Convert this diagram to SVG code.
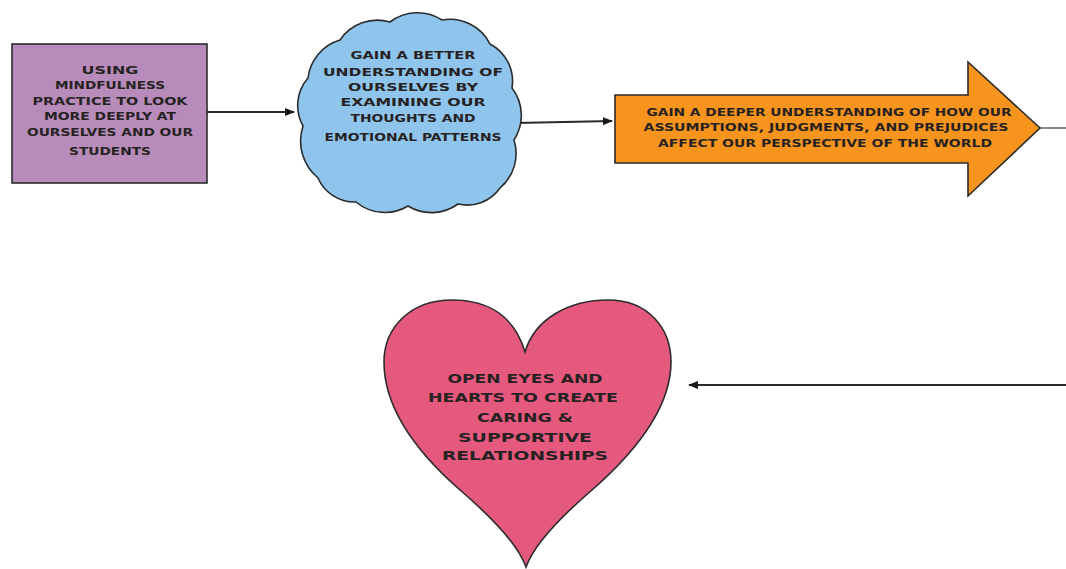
<svg xmlns="http://www.w3.org/2000/svg" width="1066" height="569" viewBox="0 0 1066 569">
<style>
.lbl{font-family:"DejaVu Sans","Liberation Sans",sans-serif;font-weight:bold;fill:#262222;text-anchor:middle}
.s{font-size:10.5px}
.m{font-size:10px}
.h{font-size:12.5px}
.edge{stroke:#2a2a2a;stroke-width:2;fill:none}
.shape{stroke:#2b2b2b;stroke-width:1.6}
</style>
<defs>
<marker id="ah" markerWidth="10" markerHeight="8" refX="9" refY="4" orient="auto" markerUnits="userSpaceOnUse">
<path d="M0,0 L10,4 L0,8 Z" fill="#1a1a1a"/>
</marker>
</defs>
<rect width="1066" height="569" fill="#ffffff"/>

<g id="connectors">
<line class="edge" x1="207" y1="112" x2="294" y2="112" marker-end="url(#ah)"/>
<line class="edge" x1="516" y1="123" x2="612" y2="121" stroke="#555" marker-end="url(#ah)"/>
<line x1="1040" y1="128" x2="1066" y2="128" stroke="#8a8a8a" stroke-width="2"/>
<line class="edge" x1="1066" y1="385" x2="689" y2="385" marker-end="url(#ah)"/>
</g>

<g id="node-mindfulness">
<rect class="shape" x="12" y="44" width="195" height="139" fill="#b88cba"/>
<text class="lbl s" x="110" y="74" textLength="57" lengthAdjust="spacingAndGlyphs">USING</text>
<text class="lbl s" x="110" y="89" textLength="110" lengthAdjust="spacingAndGlyphs">MINDFULNESS</text>
<text class="lbl s" x="110" y="105" textLength="155" lengthAdjust="spacingAndGlyphs">PRACTICE TO LOOK</text>
<text class="lbl s" x="110" y="120" textLength="132" lengthAdjust="spacingAndGlyphs">MORE DEEPLY AT</text>
<text class="lbl s" x="110" y="136" textLength="166" lengthAdjust="spacingAndGlyphs">OURSELVES AND OUR</text>
<text class="lbl s" x="110" y="155" textLength="82" lengthAdjust="spacingAndGlyphs">STUDENTS</text>
</g>

<g id="node-understanding">
<path class="shape" fill="#8fc5ec" d="M308,78 A45,45 0 0 1 340,40 A45,45 0 0 1 390,22 A45,45 0 0 1 442,20 A45,45 0 0 1 490,44 A42,42 0 0 1 512,88 A45,45 0 0 1 514,140 A45,45 0 0 1 500,188 A40,40 0 0 1 458,204 A45,45 0 0 1 408,206 A45,45 0 0 1 356,202 A40,40 0 0 1 318,178 A48,48 0 0 1 303,126 A42,42 0 0 1 308,78 Z"/>
<text class="lbl s" x="413" y="59" textLength="125" lengthAdjust="spacingAndGlyphs">GAIN A BETTER</text>
<text class="lbl s" x="413" y="76" textLength="180" lengthAdjust="spacingAndGlyphs">UNDERSTANDING OF</text>
<text class="lbl s" x="413" y="91" textLength="130" lengthAdjust="spacingAndGlyphs">OURSELVES BY</text>
<text class="lbl s" x="413" y="106" textLength="145" lengthAdjust="spacingAndGlyphs">EXAMINING OUR</text>
<text class="lbl s" x="413" y="122" textLength="125" lengthAdjust="spacingAndGlyphs">THOUGHTS AND</text>
<text class="lbl s" x="413" y="141" textLength="177" lengthAdjust="spacingAndGlyphs">EMOTIONAL PATTERNS</text>
</g>

<g id="node-deeper">
<path class="shape" fill="#f7941d" d="M615,95 L968,95 L968,62 L1040,128 L968,196 L968,163 L615,163 Z"/>
<text class="lbl m" x="829" y="116" textLength="365" lengthAdjust="spacingAndGlyphs">GAIN A DEEPER UNDERSTANDING OF HOW OUR</text>
<text class="lbl m" x="826" y="131" textLength="365" lengthAdjust="spacingAndGlyphs">ASSUMPTIONS, JUDGMENTS, AND PREJUDICES</text>
<text class="lbl m" x="825" y="147" textLength="334" lengthAdjust="spacingAndGlyphs">AFFECT OUR PERSPECTIVE OF THE WORLD</text>
</g>

<g id="node-heart">
<path class="shape" fill="#e5597f" d="M525,352 C515,318 490,300 452,300 C410,300 384,328 384,362 C384,410 420,455 460,490 C495,520 518,545 526,567 C534,545 557,520 592,490 C632,455 671,410 671,362 C671,328 648,300 608,300 C570,300 535,318 525,352 Z"/>
<text class="lbl h" x="525" y="383" textLength="155" lengthAdjust="spacingAndGlyphs">OPEN EYES AND</text>
<text class="lbl h" x="523" y="402" textLength="190" lengthAdjust="spacingAndGlyphs">HEARTS TO CREATE</text>
<text class="lbl h" x="525" y="422" textLength="96" lengthAdjust="spacingAndGlyphs">CARING &amp;</text>
<text class="lbl h" x="525" y="442" textLength="134" lengthAdjust="spacingAndGlyphs">SUPPORTIVE</text>
<text class="lbl h" x="525" y="460" textLength="166" lengthAdjust="spacingAndGlyphs">RELATIONSHIPS</text>
</g>
</svg>
